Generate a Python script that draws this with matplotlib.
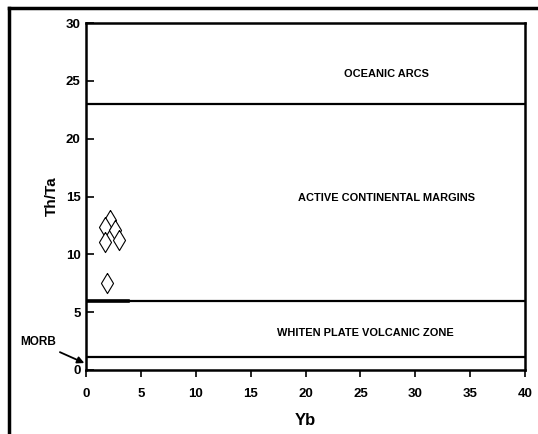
import numpy as np
import matplotlib.pyplot as plt
from matplotlib.lines import Line2D

plt.rcParams['font.family'] = ['Liberation Sans', 'DejaVu Sans']

# sample points (Yb, Th/Ta)
yb = [2.2, 1.7, 2.6, 1.7, 3.0, 1.9]
th_ta = [13.0, 12.4, 12.1, 11.1, 11.2, 7.5]

# field boundaries (Th/Ta)
boundaries = [23, 6, 1.1]
zone_names = ['OCEANIC ARCS', 'ACTIVE CONTINENTAL MARGINS', 'WHITEN PLATE VOLCANIC ZONE']
zone_x = [27.4, 27.4, 25.5]
zone_y = [25.6, 14.9, 3.2]

fig = plt.figure(figsize=(5.38, 4.34), dpi=100)
ax = fig.add_axes([86/538, 1 - 370/434, 439/538, 347/434])

for b in boundaries:
    ax.axhline(b, color='black', lw=1.6)
# short thicker piece near the start of the y=6 line
ax.plot([0, 3.8], [6, 6], color='black', lw=2.6)

diamond = [(0, 1), (0.6, 0), (0, -1), (-0.6, 0), (0, 1)]
ax.plot(yb, th_ta, linestyle='none', marker=diamond, markersize=14.5,
        markerfacecolor='white', markeredgecolor='black', markeredgewidth=0.8)

for name, x, y in zip(zone_names, zone_x, zone_y):
    ax.text(x, y, name, ha='center', va='center', fontsize=7.9, fontweight='bold')

ax.annotate('MORB', xy=(-0.15, 0.6), xytext=(-4.4, 2.4), ha='center', va='center',
            fontsize=8.5, fontweight='bold', annotation_clip=False,
            arrowprops=dict(arrowstyle='-|>', color='black', lw=1.3, mutation_scale=10,
                            shrinkA=2, shrinkB=0))

ax.set_xlim(0, 40)
ax.set_ylim(0, 30)
ax.set_xticks(np.arange(0, 41, 5))
ax.set_yticks(np.arange(0, 31, 5))
ax.tick_params(axis='x', direction='out', length=5, width=1.2, pad=8, labelsize=9.5)
ax.tick_params(axis='y', direction='in', length=6, width=1.2, pad=4, labelsize=9.5)
for lab in ax.get_xticklabels() + ax.get_yticklabels():
    lab.set_fontweight('bold')
for s in ax.spines.values():
    s.set_linewidth(1.8)

ax.set_xlabel('Yb', fontsize=12, fontweight='bold', labelpad=9)
ax.set_ylabel('Th/Ta', fontsize=11, fontweight='bold', labelpad=5)

# outer frame (top and left edges)
fig.add_artist(Line2D([9/538, 1], [1 - 8/434, 1 - 8/434], color='black', lw=2.5))
fig.add_artist(Line2D([9/538, 9/538], [0, 1 - 8/434], color='black', lw=2.5))

plt.savefig('out.png', dpi=100)
